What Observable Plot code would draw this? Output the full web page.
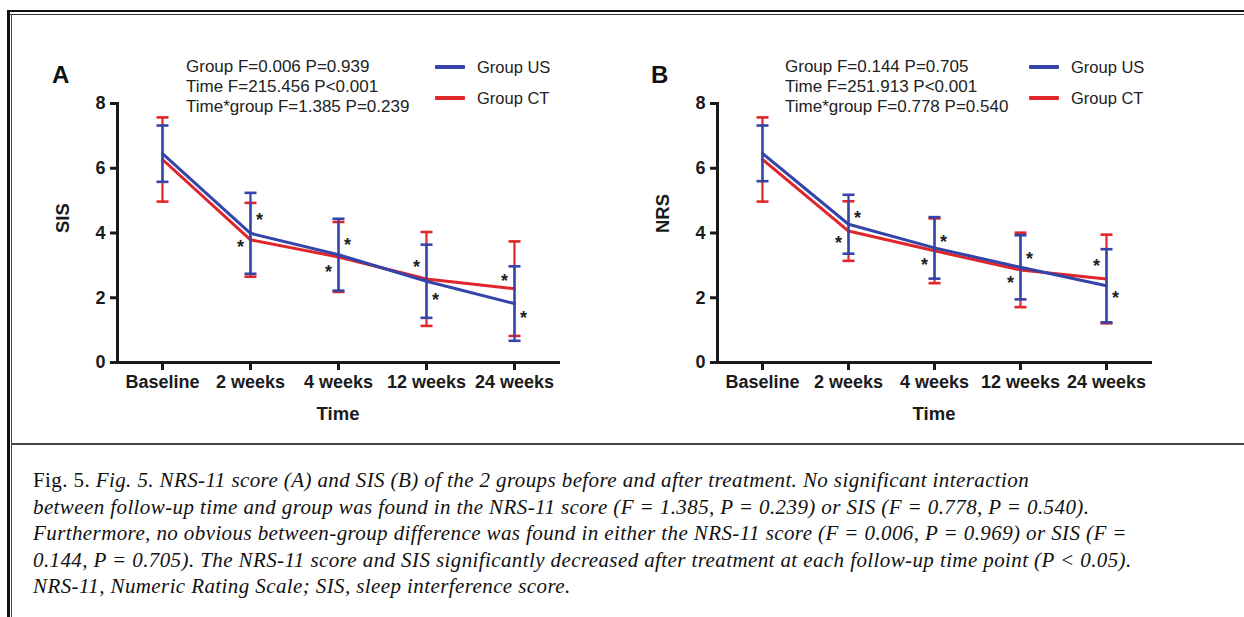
<!DOCTYPE html>
<html>
<head>
<meta charset="utf-8">
<script src="https://cdn.jsdelivr.net/npm/d3@7"></script>
<script src="https://cdn.jsdelivr.net/npm/@observablehq/plot@0.6"></script>
<style>
  html, body { margin: 0; padding: 0; background: #fff; }
  #page { position: relative; width: 1244px; height: 617px; overflow: hidden; background: #fff; }
  .abs { position: absolute; }
  .stats { font-family: "Liberation Sans", Arial, sans-serif; font-size: 17px; line-height: 20px; color: #222; white-space: nowrap; }
  .leg { font-family: "Liberation Sans", Arial, sans-serif; font-size: 16.5px; color: #222; white-space: nowrap; line-height: 20px; }
  .panelLabel { font-family: "Liberation Sans", Arial, sans-serif; font-size: 24px; font-weight: bold; color: #111; line-height: 24px; }
  .caption { font-family: "Liberation Serif", "DejaVu Serif", serif; font-size: 21px; letter-spacing: 0.4px; line-height: 26.5px; color: #111; white-space: nowrap; }
  .caption i { font-style: italic; }
</style>
</head>
<body>
<div id="page"></div>
<script>
// ---------- data ----------
const categories = ["Baseline", "2 weeks", "4 weeks", "12 weeks", "24 weeks"];
const groups = ["Group US", "Group CT"];

// Panel A: SIS (mean, SD)
const sisUSMean = [6.45, 3.99, 3.33, 2.51, 1.82];
const sisUSSd   = [0.87, 1.25, 1.11, 1.13, 1.15];
const sisCTMean = [6.27, 3.79, 3.26, 2.58, 2.28];
const sisCTSd   = [1.30, 1.14, 1.08, 1.45, 1.46];
const sisStarLeft  = [null, 3.68, 2.91, 3.07, 2.63];
const sisStarRight = [null, 4.51, 3.74, 2.04, 1.49];

// Panel B: NRS (mean, SD)
const nrsUSMean = [6.46, 4.27, 3.54, 2.94, 2.37];
const nrsUSSd   = [0.86, 0.91, 0.95, 0.99, 1.13];
const nrsCTMean = [6.27, 4.06, 3.45, 2.86, 2.58];
const nrsCTSd   = [1.30, 0.92, 1.00, 1.15, 1.37];
const nrsStarLeft  = [null, 3.81, 3.12, 2.57, 3.09];
const nrsStarRight = [null, 4.58, 3.84, 3.30, 2.11];

const yTicks = [0, 2, 4, 6, 8];
const statsA = ["Group F=0.006 P=0.939", "Time F=215.456 P<0.001", "Time*group F=1.385 P=0.239"];
const statsB = ["Group F=0.144 P=0.705", "Time F=251.913 P<0.001", "Time*group F=0.778 P=0.540"];

const BLUE = "#3444a8";
const RED = "#e0262b";

// ---------- helpers ----------
const rowsOf = (means, sds, group) => categories.map((t, i) => ({time: t, group, mean: means[i], sd: sds[i]}));
const starsOf = (vals) => categories.map((t, i) => ({time: t, y: vals[i]})).filter(d => d.y != null);

const capSymbol = {
  draw(context, size) {
    const r = Math.sqrt(size / Math.PI);
    context.moveTo(-r, 0);
    context.lineTo(r, 0);
  }
};

function errMarks(rows, color) {
  return [
    Plot.ruleX(rows, {x: "time", y1: d => d.mean - d.sd, y2: d => d.mean + d.sd, stroke: color, strokeWidth: 2.2}),
    Plot.dot(rows, {x: "time", y: d => d.mean + d.sd, symbol: capSymbol, r: 6, stroke: color, fill: "none", strokeWidth: 2.6}),
    Plot.dot(rows, {x: "time", y: d => d.mean - d.sd, symbol: capSymbol, r: 6, stroke: color, fill: "none", strokeWidth: 2.6}),
  ];
}

function panel({us, ct, starL, starR, yLabel, width, marginRight}) {
  return Plot.plot({
    width, height: 420,
    marginLeft: 97, marginRight, marginTop: 83, marginBottom: 78,
    style: {background: "transparent", fontFamily: "'Liberation Sans', Arial, sans-serif", color: "#1a1a1a", overflow: "visible"},
    x: {type: "point", domain: categories, padding: 0.5, label: null},
    y: {domain: [0, 8], label: null},
    marks: [
      Plot.axisY({ticks: yTicks, tickSize: 7, tickPadding: 5, strokeWidth: 3, fontSize: 18, fontWeight: "bold", label: null}),
      Plot.axisX({tickSize: 8, tickPadding: 5, strokeWidth: 3, fontSize: 18, fontWeight: "bold", label: null}),
      Plot.frame({anchor: "left", strokeWidth: 3, strokeLinecap: "square"}),
      Plot.frame({anchor: "bottom", strokeWidth: 3, strokeLinecap: "square"}),
      ...errMarks(ct, RED),
      Plot.line(ct, {x: "time", y: "mean", stroke: RED, strokeWidth: 3}),
      ...errMarks(us, BLUE),
      Plot.line(us, {x: "time", y: "mean", stroke: BLUE, strokeWidth: 3}),
      Plot.text(starL, {x: "time", y: "y", text: () => "*", dx: -10, dy: 4, fontSize: 18, fontWeight: "bold", fill: "#222"}),
      Plot.text(starR, {x: "time", y: "y", text: () => "*", dx: 9, dy: 4, fontSize: 18, fontWeight: "bold", fill: "#222"}),
      Plot.text(["Time"], {frameAnchor: "bottom", text: d => d, dy: 57, fontSize: 18.5, fontWeight: "bold", fill: "#1a1a1a"}),
      Plot.text([yLabel], {frameAnchor: "left", text: d => d, dx: -54, rotate: -90, fontSize: 18.5, fontWeight: "bold", fill: "#1a1a1a"})
    ]
  });
}

// ---------- page ----------
const page = document.getElementById("page");
function addDiv(cls, css, html) {
  const d = document.createElement("div");
  d.className = "abs " + cls;
  Object.assign(d.style, css);
  d.innerHTML = html;
  page.appendChild(d);
  return d;
}

// borders
addDiv("", {left: "8px", top: "10px", width: "1236px", height: "2px", background: "#111"}, "");
addDiv("", {left: "8px", top: "14px", width: "1236px", height: "1px", background: "#333"}, "");
addDiv("", {left: "7px", top: "10px", width: "2.5px", height: "607px", background: "#111"}, "");
addDiv("", {left: "11px", top: "14px", width: "1px", height: "603px", background: "#444"}, "");
addDiv("", {left: "11px", top: "443px", width: "1233px", height: "2px", background: "#444"}, "");

// panels
const chartA = panel({
  us: rowsOf(sisUSMean, sisUSSd, groups[0]), ct: rowsOf(sisCTMean, sisCTSd, groups[1]),
  starL: starsOf(sisStarLeft), starR: starsOf(sisStarRight), yLabel: "SIS", width: 560, marginRight: 22
});
chartA.style.position = "absolute"; chartA.style.left = "20px"; chartA.style.top = "20px";
page.appendChild(chartA);

const chartB = panel({
  us: rowsOf(nrsUSMean, nrsUSSd, groups[0]), ct: rowsOf(nrsCTMean, nrsCTSd, groups[1]),
  starL: starsOf(nrsStarLeft), starR: starsOf(nrsStarRight), yLabel: "NRS", width: 560, marginRight: 30
});
chartB.style.position = "absolute"; chartB.style.left = "620px"; chartB.style.top = "20px";
page.appendChild(chartB);

// panel labels, stats, legends
function decorations(ox, label, stats, legOx) {
  addDiv("panelLabel", {left: (ox + 52) + "px", top: "63px"}, label);
  addDiv("stats", {left: (ox + 186) + "px", top: "57px"}, stats.join("<br>"));
  groups.forEach((g, i) => {
    const color = i === 0 ? BLUE : RED;
    const cy = 67 + i * 31;
    addDiv("", {left: (legOx + 435) + "px", top: (cy - 1.75) + "px", width: "30px", height: "3.5px", background: color, borderRadius: "1px"}, "");
    addDiv("leg", {left: (legOx + 477) + "px", top: (cy - 10) + "px"}, g);
  });
}
decorations(0, "A", statsA, 0);
decorations(599, "B", statsB, 594);

// caption
addDiv("caption", {left: "33px", top: "467px"},
  "Fig. 5. <i>Fig. 5. NRS-11 score (A) and SIS (B) of the 2 groups before and after treatment. No significant interaction</i><br>" +
  "<i>between follow-up time and group was found in the NRS-11 score (F = 1.385, P = 0.239) or SIS (F = 0.778, P = 0.540).</i><br>" +
  "<i>Furthermore, no obvious between-group difference was found in either the NRS-11 score (F = 0.006, P = 0.969) or SIS (F =</i><br>" +
  "<i>0.144, P = 0.705). The NRS-11 score and SIS significantly decreased after treatment at each follow-up time point (P &lt; 0.05).</i><br>" +
  "<i>NRS-11, Numeric Rating Scale; SIS, sleep interference score.</i>");
</script>
</body>
</html>
